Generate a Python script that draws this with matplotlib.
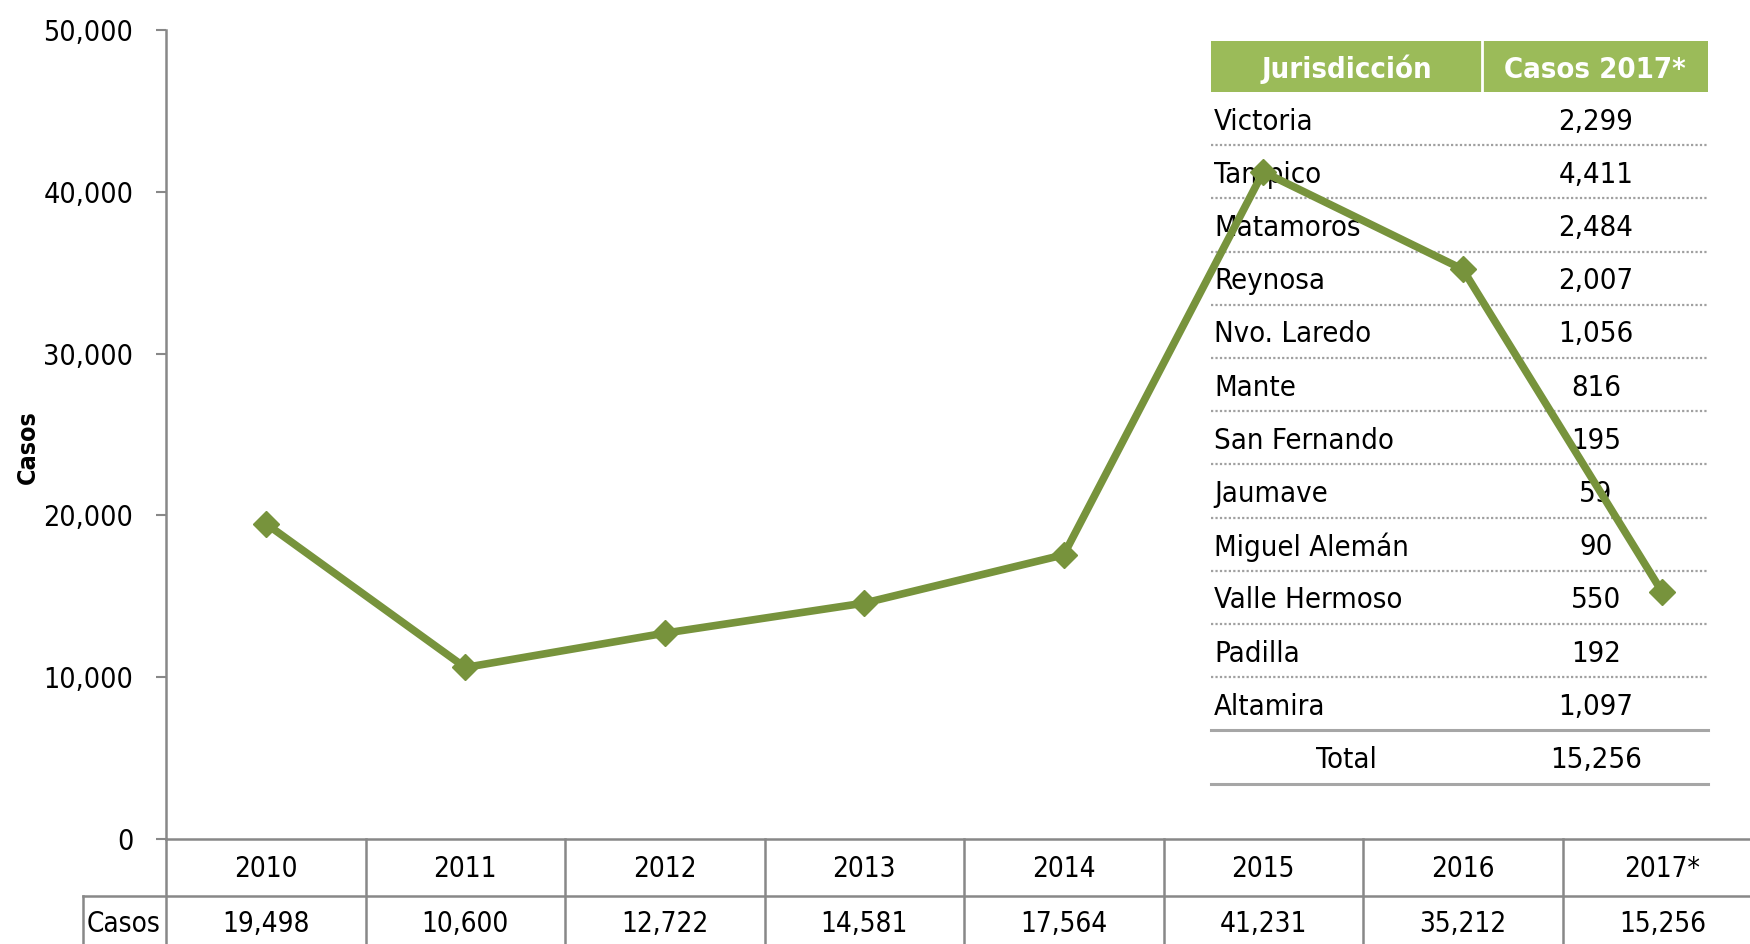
import matplotlib.pyplot as plt
from matplotlib.lines import Line2D
from matplotlib.patches import Rectangle
from matplotlib.transforms import blended_transform_factory

years = ["2010", "2011", "2012", "2013", "2014", "2015", "2016", "2017*"]
casos = [19498, 10600, 12722, 14581, 17564, 41231, 35212, 15256]

jurisdicciones = ["Victoria", "Tampico", "Matamoros", "Reynosa", "Nvo. Laredo", "Mante",
                  "San Fernando", "Jaumave", "Miguel Alemán", "Valle Hermoso", "Padilla", "Altamira"]
casos_2017 = [2299, 4411, 2484, 2007, 1056, 816, 195, 59, 90, 550, 192, 1097]
total_2017 = 15256

yticks = [0, 10000, 20000, 30000, 40000, 50000]

plt.rcParams['font.family'] = ['DejaVu Sans']
plt.rcParams['font.stretch'] = 'condensed'

W, H = 1750, 944
GREEN = '#77933C'
HEAD = '#9BBB59'
GRAY = '#888888'

fig = plt.figure(figsize=(W / 100, H / 100), dpi=100)

def fx(px):
    return px / W

def fy(py):
    return 1 - py / H

# plot area in pixels: left 166, right 1762 (runs past the edge), top 30, bottom 839
ax = fig.add_axes([fx(166), fy(839), fx(1762) - fx(166), fy(30) - fy(839)])

x = list(range(len(years)))
ax.plot(x, casos, color=GREEN, linewidth=5.5, marker='D', markersize=13, zorder=5, clip_on=False)

ax.set_xlim(-0.5, len(years) - 0.5)
ax.set_ylim(0, 50000)
ax.set_yticks(yticks)
ax.set_yticklabels([f"{v:,}" for v in yticks])
ax.set_xticks([])
ax.tick_params(axis='y', direction='out', length=7.5, width=1.5, color=GRAY, labelsize=20.5, pad=16)
for s in ['top', 'right']:
    ax.spines[s].set_visible(False)
for s in ['left', 'bottom']:
    ax.spines[s].set_color(GRAY)
    ax.spines[s].set_linewidth(1.8)

fig.text(fx(28), fy(447), "Casos", rotation=90, ha='center', va='center',
         fontsize=18, fontweight='bold')

# data table under the x axis
tf = fig.transFigure
bt = blended_transform_factory(ax.transData, tf)
ax.add_line(Line2D([fx(83), 1], [fy(896), fy(896)], transform=tf, color=GRAY, lw=1.8, clip_on=False))
ax.add_line(Line2D([fx(83), fx(83)], [fy(896), 0], transform=tf, color=GRAY, lw=1.8, clip_on=False))
ax.add_line(Line2D([fx(166), fx(166)], [fy(839), 0], transform=tf, color=GRAY, lw=1.8, clip_on=False))
for i in range(1, len(years)):
    ax.add_line(Line2D([i - 0.5, i - 0.5], [fy(839), 0], transform=bt, color=GRAY, lw=1.8, clip_on=False))
for i, (yr, v) in enumerate(zip(years, casos)):
    ax.text(i, fy(869), yr, transform=bt, ha='center', va='center', fontsize=20)
    ax.text(i, fy(924), f"{v:,}", transform=bt, ha='center', va='center', fontsize=20)
fig.text(fx(124), fy(924), "Casos", ha='center', va='center', fontsize=20)

# inset table: 2017 cases by jurisdiction
tl, tm, tr = 1211, 1482, 1708
h_top, h_bot = 41, 92
rh = 53.2
dy = 3  # text sits a little below the row centre
ax.add_patch(Rectangle((fx(tl), fy(h_bot)), fx(tr) - fx(tl), fy(h_top) - fy(h_bot),
                       transform=tf, facecolor=HEAD, edgecolor='none', clip_on=False, zorder=1))
ax.add_line(Line2D([fx(tm), fx(tm)], [fy(h_top), fy(h_bot)], transform=tf, color='white', lw=2,
                   clip_on=False, zorder=2))
ax.text(fx((tl + tm) / 2), fy((h_top + h_bot) / 2 + dy), "Jurisdicción", transform=tf, ha='center',
        va='center', fontsize=21, fontweight='bold', color='white', zorder=2)
ax.text(fx((tm + tr) / 2), fy((h_top + h_bot) / 2 + dy), "Casos 2017*", transform=tf, ha='center',
        va='center', fontsize=21, fontweight='bold', color='white', zorder=2)

for i, (name, v) in enumerate(zip(jurisdicciones, casos_2017)):
    yc = h_bot + rh * (i + 0.5) + dy
    ax.text(fx(tl + 3), fy(yc), name, transform=tf, ha='left', va='center', fontsize=21, zorder=2)
    ax.text(fx(1596), fy(yc), f"{v:,}", transform=tf, ha='center', va='center', fontsize=21, zorder=2)
    yb = h_bot + rh * (i + 1)
    if i < len(jurisdicciones) - 1:
        ax.add_line(Line2D([fx(tl), fx(tr)], [fy(yb), fy(yb)], transform=tf, color='#A0A0A0',
                           lw=1.6, linestyle=(0, (1, 1)), clip_on=False, zorder=1))
    else:
        ax.add_line(Line2D([fx(tl), fx(tr)], [fy(yb), fy(yb)], transform=tf, color='#A6A6A6',
                           lw=2.2, clip_on=False, zorder=1))

yc = h_bot + rh * 12.5 + dy
ax.text(fx((tl + tm) / 2), fy(yc), "Total", transform=tf, ha='center', va='center', fontsize=21, zorder=2)
ax.text(fx(1596), fy(yc), f"{total_2017:,}", transform=tf, ha='center', va='center', fontsize=21, zorder=2)
yb = h_bot + rh * 13
ax.add_line(Line2D([fx(tl), fx(tr)], [fy(yb), fy(yb)], transform=tf, color='#A6A6A6',
                   lw=2.2, clip_on=False, zorder=1))

fig.savefig('out.png', dpi=100)
